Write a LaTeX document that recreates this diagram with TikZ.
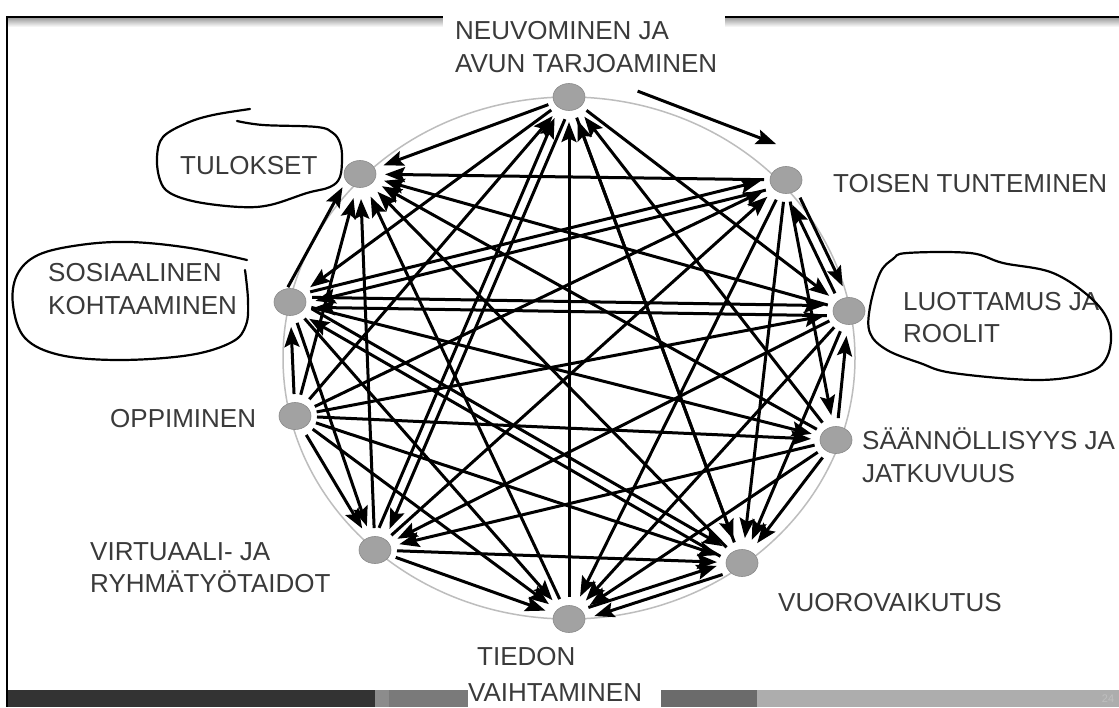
\documentclass[tikz,border=0pt]{standalone}
\usepackage{fontspec}
\setmainfont{Liberation Sans}
\usetikzlibrary{shapes.geometric,calc,arrows.meta}

\definecolor{labelgray}{HTML}{3A3A3A}
\definecolor{hubfill}{HTML}{A2A2A2}
\definecolor{hubedge}{HTML}{8A8A8A}
\definecolor{ringgray}{HTML}{BDBDBD}

\begin{document}
\begin{tikzpicture}[x=1pt,y=-1pt,
  hub/.style={ellipse, fill=hubfill, draw=hubedge, line width=0.6pt,
    minimum width=32pt, minimum height=27pt, inner sep=0pt},
  lbl/.style={anchor=base west, text=labelgray, inner sep=0pt,
    font=\fontsize{26}{30}\selectfont},
  arr/.style={line width=3pt, -{Stealth[length=20pt,width=15pt,inset=3.5pt]},
    shorten <=22pt, shorten >=25pt},
  scribble/.style={line width=2.2pt, line cap=round, line join=round}
]
\useasboundingbox (0,0) rectangle (1119,707);
\fill[white] (0,0) rectangle (1119,707);

% slide frame: top rule with soft shadow, left rule
\shade[top color=black!35, bottom color=white] (7,18.5) rectangle (443,27);
\shade[top color=black!35, bottom color=white] (725,18.5) rectangle (1119,27);
\draw[line width=2.6pt] (6,17) -- (443,17);
\draw[line width=2.6pt] (725,17) -- (1119,17);
\draw[line width=2.4pt] (7,16) -- (7,707);

% footer bar
\fill[black!80] (8,690) rectangle (375,707);
\fill[black!45] (375,690) rectangle (389,707);
\fill[black!52] (389,690) rectangle (468,707);
\fill[black!58] (661,690) rectangle (757,707);
\fill[black!32] (757,690) rectangle (1119,707);
\node[text=white!75!black, font=\fontsize{11}{12}\selectfont, inner sep=0pt] (pagenum) at (1108,699) {24};

% ring
\draw[ringgray, line width=1.5pt] (569,358) ellipse [x radius=286pt, y radius=261pt];

% hubs on the ring
\node[hub] (A) at (569,97) {};
\node[hub] (B) at (786,180) {};
\node[hub] (C) at (849,311) {};
\node[hub] (D) at (836,440) {};
\node[hub] (E) at (742,563) {};
\node[hub] (F) at (569,619) {};
\node[hub] (G) at (375,550) {};
\node[hub] (H) at (295,416) {};
\node[hub] (I) at (290,302) {};
\node[hub] (J) at (360,174) {};

% directed links (source/target/side offset)
\foreach \s/\t/\o in {
  A/J/0pt, A/I/0pt, A/G/5pt, G/A/5pt, A/E/0pt, A/C/0pt,
  F/A/0pt, H/A/0pt, D/A/0pt, E/A/0pt,
  B/J/0pt, B/C/5pt, C/B/5pt, B/D/0pt, B/E/0pt, B/F/0pt, B/I/5pt, I/B/5pt,
  H/B/0pt, G/B/0pt,
  C/J/0pt, D/J/0pt, E/J/0pt, F/J/0pt, G/J/0pt, H/J/0pt,
  C/F/0pt, C/G/0pt, C/I/5pt, I/C/5pt, H/C/0pt, C/E/0pt,
  D/C/0pt, D/E/0pt, D/F/0pt, D/G/0pt, H/D/0pt, I/D/0pt,
  E/F/5pt, F/E/5pt, G/E/0pt, H/E/0pt, E/I/5pt, I/E/5pt,
  G/F/0pt, H/F/0pt, I/F/0pt, H/G/0pt, I/G/0pt, H/I/0pt}
  \draw[arr] ($(\s)!\o!90:(\t)$) -- ($(\t)!\o!-90:(\s)$);
% the two links that run just outside the ring
\draw[arr, shorten <=62pt, shorten >=22pt] ($(A)!30pt!90:(B)$) -- ($(B)!30pt!-90:(A)$);
\draw[arr, shorten <=12pt, shorten >=20pt] ($(I)!9pt!90:(J)$) -- ($(J)!9pt!-90:(I)$);

% labels
\fill[white] (443,15) rectangle (725,80);
\node[lbl] (lA1) at (455,39) {NEUVOMINEN JA};
\node[lbl] (lA2) at (455,72) {AVUN TARJOAMINEN};
\node[lbl] (lJ) at (180,174) {TULOKSET};
\node[lbl] (lB) at (833,192) {TOISEN TUNTEMINEN};
\node[lbl] (lI1) at (48,281) {SOSIAALINEN};
\node[lbl] (lI2) at (48,314) {KOHTAAMINEN};
\node[lbl] (lC1) at (903,310) {LUOTTAMUS JA};
\node[lbl] (lC2) at (903,342) {ROOLIT};
\node[lbl] (lH) at (110,427) {OPPIMINEN};
\node[lbl] (lD1) at (862,449) {SÄÄNNÖLLISYYS JA};
\node[lbl] (lD2) at (862,482) {JATKUVUUS};
\node[lbl] (lG1) at (90,560) {VIRTUAALI- JA};
\node[lbl] (lG2) at (90,592) {RYHMÄTYÖTAIDOT};
\node[lbl] (lE) at (778,611) {VUOROVAIKUTUS};
\node[lbl] (lF1) at (477,665) {TIEDON};
\node[lbl] (lF2) at (468,701) {VAIHTAMINEN};

% hand-drawn outlines
\draw[scribble] plot[smooth, tension=0.6] coordinates {
  (250,109) (213,115) (187,123) (163,137) (157,157) (160,180) (170,193)
  (197,202) (240,207) (270,205) (307,193) (330,187) (340,177) (342,157)
  (340,143) (333,133) (317,127) (263,125) (237,121)};
\draw[scribble] plot[smooth, tension=0.6] coordinates {
  (245,270) (248,300) (246,325) (232,342) (190,355) (120,360) (60,355)
  (25,338) (13,305) (17,275) (38,255) (80,245) (130,242) (190,248) (247,260)};
\draw[scribble] plot[smooth cycle, tension=0.6] coordinates {
  (907,253) (970,253) (1003,263) (1053,273) (1093,300) (1110,327)
  (1107,357) (1087,373) (1037,380) (953,373) (920,363) (887,350)
  (870,333) (870,307) (880,273) (893,259)};
\end{tikzpicture}
\end{document}
